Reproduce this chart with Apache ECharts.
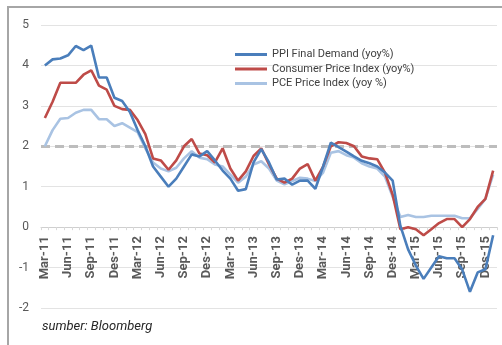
<!DOCTYPE html>
<html>
<head>
<meta charset="utf-8">
<script src="https://cdn.jsdelivr.net/npm/echarts@6/dist/echarts.min.js"></script>
<style>
  html, body { margin: 0; padding: 0; background: #ffffff; }
  #chart { width: 502px; height: 345px; }
</style>
</head>
<body>
<div id="chart"></div>
<script>
// Monthly categories, Mar-11 .. Jan-16 (Indonesian month abbreviations)
const months = [
  'Mar-11','Apr-11','Mei-11','Jun-11','Jul-11','Agu-11','Sep-11','Okt-11','Nov-11','Des-11',
  'Jan-12','Feb-12','Mar-12','Apr-12','Mei-12','Jun-12','Jul-12','Agu-12','Sep-12','Okt-12','Nov-12','Des-12',
  'Jan-13','Feb-13','Mar-13','Apr-13','Mei-13','Jun-13','Jul-13','Agu-13','Sep-13','Okt-13','Nov-13','Des-13',
  'Jan-14','Feb-14','Mar-14','Apr-14','Mei-14','Jun-14','Jul-14','Agu-14','Sep-14','Okt-14','Nov-14','Des-14',
  'Jan-15','Feb-15','Mar-15','Apr-15','Mei-15','Jun-15','Jul-15','Agu-15','Sep-15','Okt-15','Nov-15','Des-15',
  'Jan-16'
];

// PPI Final Demand, yoy %
const ppi = [
  4.0, 4.15, 4.17, 4.25, 4.48, 4.38, 4.49, 3.7, 3.7, 3.2,
  3.12, 2.85, 2.4, 2.0, 1.5, 1.25, 1.0, 1.2, 1.5, 1.8, 1.75, 1.88,
  1.65, 1.4, 1.2, 0.9, 0.94, 1.6, 1.93, 1.6, 1.18, 1.2, 1.05, 1.15,
  1.15, 0.95, 1.5, 2.09, 1.98, 1.87, 1.75, 1.64, 1.58, 1.5, 1.35, 1.15,
  0.03, -0.55, -0.95, -1.28, -1.0, -0.72, -0.77, -0.77, -1.05, -1.6, -1.12, -1.04,
  -0.2
];

// Consumer Price Index, yoy %
const cpi = [
  2.7, 3.1, 3.57, 3.57, 3.57, 3.77, 3.88, 3.5, 3.4, 3.0,
  2.92, 2.9, 2.65, 2.3, 1.7, 1.65, 1.42, 1.65, 2.0, 2.18, 1.82, 1.78,
  1.6, 1.95, 1.45, 1.15, 1.38, 1.76, 1.95, 1.55, 1.2, 1.1, 1.2, 1.45,
  1.56, 1.15, 1.5, 2.0, 2.1, 2.08, 2.0, 1.75, 1.7, 1.68, 1.35, 0.8,
  -0.05, 0.0, -0.05, -0.2, -0.05, 0.1, 0.2, 0.2, 0.0, 0.2, 0.5, 0.7,
  1.4
];

// PCE Price Index, yoy %
const pce = [
  2.0, 2.4, 2.68, 2.7, 2.83, 2.9, 2.9, 2.67, 2.67, 2.5,
  2.57, 2.46, 2.35, 1.95, 1.6, 1.45, 1.38, 1.47, 1.7, 1.88, 1.72, 1.68,
  1.55, 1.5, 1.3, 1.1, 1.25, 1.55, 1.63, 1.45, 1.15, 1.06, 1.14, 1.22,
  1.2, 1.14, 1.35, 1.84, 1.88, 1.78, 1.72, 1.58, 1.5, 1.45, 1.25, 0.75,
  0.25, 0.3, 0.25, 0.25, 0.28, 0.28, 0.28, 0.28, 0.22, 0.22, 0.45, 0.7,
  1.3
];

const seriesNames = ['PPI Final Demand (yoy%)', 'Consumer Price Index (yoy%)', 'PCE Price Index (yoy %)'];
const seriesColors = ['#4a7ebb', '#be4b48', '#a9c3e3'];
const targetLevel = 2;
const yMin = -2, yMax = 5;

const W = 502, H = 345;
const gridBox = { left: 41, right: 5, top: 25, bottom: 37 };
// the category axis sits on the zero line: shift it up from the grid bottom
const gridHeight = H - gridBox.top - gridBox.bottom;
const zeroOffset = -gridHeight * (0 - yMin) / (yMax - yMin);

const chart = echarts.init(document.getElementById('chart'), null, { renderer: 'canvas' });

const FONT = 'Roboto, "Liberation Sans", sans-serif';

function lineSeries(idx, data, z) {
  return {
    name: seriesNames[idx],
    type: 'line',
    data: data,
    symbol: 'none',
    smooth: false,
    z: z,
    lineStyle: { color: seriesColors[idx], width: 2.6 },
    itemStyle: { color: seriesColors[idx] }
  };
}

const series = [
  lineSeries(0, ppi, 4),
  lineSeries(1, cpi, 3),
  lineSeries(2, pce, 2)
];
// dashed reference level
series[2].markLine = {
  silent: true,
  symbol: 'none',
  label: { show: false },
  lineStyle: { color: '#bdbdbd', width: 3, type: [9, 5] },
  data: [{ yAxis: targetLevel }],
  z: 1
};

chart.setOption({
  animation: false,
  backgroundColor: '#ffffff',
  textStyle: { fontFamily: FONT },
  graphic: [{
    type: 'rect',
    shape: { x: 8, y: 7, width: 600, height: 400 },
    style: { fill: 'none', stroke: '#a6a6a6', lineWidth: 2 },
    silent: true,
    z: 100
  }, {
    type: 'text',
    left: 42,
    top: 320,
    style: {
      text: 'sumber: Bloomberg',
      fill: '#262626',
      font: 'italic 13px ' + FONT
    }
  }],
  grid: Object.assign({ containLabel: false, outerBoundsMode: 'none' }, gridBox),
  legend: {
    orient: 'vertical',
    left: 230,
    top: 43,
    itemWidth: 32,
    itemHeight: 3,
    itemGap: 1.5,
    icon: 'rect',
    data: seriesNames,
    textStyle: { color: '#404040', fontSize: 11, lineHeight: 13, fontFamily: FONT }
  },
  xAxis: {
    type: 'category',
    data: months,
    boundaryGap: true,
    position: 'bottom',
    offset: zeroOffset,
    axisLine: { onZero: false, lineStyle: { color: '#cfcfcf', width: 1 } },
    axisTick: { show: true, interval: 0, length: 3, lineStyle: { color: '#d9d9d9' } },
    axisLabel: {
      interval: 2,
      rotate: 90,
      margin: 9,
      color: '#595959',
      fontSize: 13,
      fontWeight: 'bold',
      fontFamily: FONT
    },
    splitLine: { show: false }
  },
  yAxis: {
    type: 'value',
    min: yMin,
    max: yMax,
    interval: 1,
    axisLine: { show: false },
    axisTick: { show: false },
    axisLabel: { color: '#595959', fontSize: 12, margin: 12, fontFamily: FONT },
    splitLine: { lineStyle: { color: '#e3e3e3', width: 1 } }
  },
  series: series
});
</script>
</body>
</html>
